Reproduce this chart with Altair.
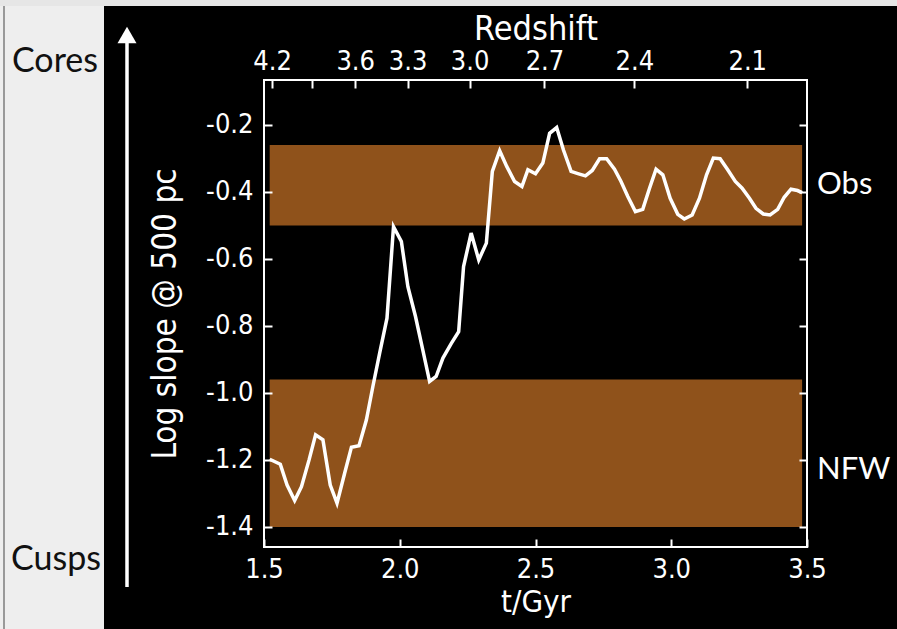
import altair as alt
import pandas as pd

# Simulation time (Gyr) and log slope of the dark matter density profile at 500 pc
t_gyr = [1.521, 1.560, 1.585, 1.613, 1.638, 1.666, 1.690, 1.717, 1.744, 1.769,
         1.797, 1.822, 1.850, 1.877, 1.901, 1.926, 1.953, 1.977, 2.006, 2.030,
         2.058, 2.085, 2.110, 2.134, 2.159, 2.190, 2.217, 2.235, 2.263, 2.291,
         2.319, 2.341, 2.368, 2.394, 2.423, 2.450, 2.472, 2.500, 2.527, 2.552,
         2.578, 2.603, 2.631, 2.659, 2.684, 2.709, 2.736, 2.762, 2.791, 2.815,
         2.840, 2.868, 2.895, 2.920, 2.944, 2.969, 2.996, 3.024, 3.048, 3.077,
         3.104, 3.130, 3.155, 3.180, 3.208, 3.236, 3.261, 3.288, 3.312, 3.339,
         3.364, 3.392, 3.416, 3.441, 3.465, 3.482]
log_slope = [-1.198, -1.213, -1.275, -1.321, -1.280, -1.200, -1.125, -1.140, -1.275, -1.329,
             -1.240, -1.162, -1.158, -1.081, -0.981, -0.881, -0.777, -0.504, -0.548, -0.683,
             -0.772, -0.872, -0.966, -0.951, -0.896, -0.852, -0.817, -0.623, -0.523, -0.603,
             -0.553, -0.339, -0.277, -0.324, -0.369, -0.384, -0.334, -0.346, -0.314, -0.225,
             -0.208, -0.275, -0.339, -0.346, -0.352, -0.336, -0.301, -0.301, -0.332, -0.369,
             -0.414, -0.459, -0.452, -0.389, -0.332, -0.349, -0.419, -0.467, -0.481, -0.469,
             -0.419, -0.349, -0.299, -0.301, -0.334, -0.369, -0.389, -0.419, -0.449, -0.466,
             -0.469, -0.452, -0.416, -0.392, -0.396, -0.402]

# Reference ranges: observed dwarf galaxies and NFW cusps
band_names = ["Obs", "NFW"]
band_low = [-0.50, -1.40]
band_high = [-0.26, -0.96]
band_label_y = [-0.38, -1.23]

# Redshift ticks on the top axis, placed at their cosmic time
z_tick_t = [1.530, 1.676, 1.836, 2.029, 2.257, 2.533, 2.864, 3.280]
z_tick_labels = ["4.2", "", "3.6", "3.3", "3.0", "2.7", "2.4", "2.1"]

t_ticks = [1.5, 2.0, 2.5, 3.0, 3.5]
slope_ticks = [-0.2, -0.4, -0.6, -0.8, -1.0, -1.2, -1.4]

W, H = 543, 467
PAD_L, PAD_T = 264, 80
X_DOM = [1.5, 3.5]
Y_DOM = [-1.46, -0.066]

AX_FONT = "DejaVu Sans Condensed, DejaVu Sans"
SIDE_FONT = "Lato"
BAND_COLOR = "#8f521b"

line_df = pd.DataFrame({"t": t_gyr, "slope": log_slope})
band_df = pd.DataFrame({
    "name": band_names, "lo": band_low, "hi": band_high, "label_y": band_label_y,
    "t0": [t_gyr[0]] * 2, "t1": [t_gyr[-1]] * 2,
})
z_df = pd.DataFrame({"t": z_tick_t})
ytick_df = pd.DataFrame({"v": slope_ticks})
one = pd.DataFrame({"k": [0]})

xs = alt.Scale(domain=X_DOM, nice=False, zero=False)
ys = alt.Scale(domain=Y_DOM, nice=False, zero=False)

axis_style = dict(
    offset=-8, tickSize=8, tickWidth=2, tickColor="white", domain=False, grid=False,
    labelColor="white", labelFont=AX_FONT, labelFontSize=27, labelFlush=False,
    labelOverlap=False, titleColor="white", titleFont=AX_FONT,
    titleFontWeight="normal", zindex=1,
)

minus_fix = "replace(format(datum.value, '.1f'), '\u2212', '-')"

# Light side panel with the cores/cusps arrow
panel = alt.Chart(one).mark_rect(color="#eeeeee").encode(
    x=alt.value(-PAD_L), x2=alt.value(104 - PAD_L),
    y=alt.value(-PAD_T), y2=alt.value(629 - PAD_T))
top_strip = alt.Chart(one).mark_rect(color="#e6e6e6").encode(
    x=alt.value(-PAD_L), x2=alt.value(897 - PAD_L),
    y=alt.value(-PAD_T), y2=alt.value(6 - PAD_T))
panel_edge = alt.Chart(one).mark_rule(color="#444444", strokeWidth=1).encode(
    x=alt.value(4 - PAD_L), y=alt.value(6 - PAD_T), y2=alt.value(629 - PAD_T))
arrow_shaft = alt.Chart(one).mark_rule(color="white", strokeWidth=3.5).encode(
    x=alt.value(127 - PAD_L), y=alt.value(40 - PAD_T), y2=alt.value(587 - PAD_T))
arrow_head = alt.Chart(one).mark_point(
    shape="triangle-up", filled=True, size=361, color="white", opacity=1
).encode(x=alt.value(127 - PAD_L), y=alt.value(35 - PAD_T))
cores = alt.Chart(one).mark_text(
    text="Cores", font=SIDE_FONT, fontSize=34, color="#111111", align="center",
    baseline="alphabetic").encode(x=alt.value(55 - PAD_L), y=alt.value(72 - PAD_T))
cusps = alt.Chart(one).mark_text(
    text="Cusps", font=SIDE_FONT, fontSize=34, color="#111111", align="center",
    baseline="alphabetic").encode(x=alt.value(56 - PAD_L), y=alt.value(570 - PAD_T))

bands = alt.Chart(band_df).mark_rect(color=BAND_COLOR).encode(
    x=alt.X("t0:Q", scale=xs, axis=alt.Axis(
        orient="bottom", values=t_ticks, format=".1f", title="t/Gyr",
        titleFontSize=31, labelPadding=9, titlePadding=5, **axis_style)),
    x2="t1:Q",
    y=alt.Y("lo:Q", scale=ys, axis=alt.Axis(
        orient="left", values=slope_ticks, labelExpr=minus_fix,
        title="Log slope @ 500 pc", titleFontSize=33,
        labelPadding=11, titlePadding=23, **axis_style)),
    y2="hi:Q",
)

curve = alt.Chart(line_df).mark_line(color="white", strokeWidth=3.5).encode(
    x=alt.X("t:Q", scale=xs, axis=None),
    y=alt.Y("slope:Q", scale=ys, axis=None),
)

z_expr = "{}[indexof({}, datum.value)]".format(
    "[" + ",".join("'%s'" % s for s in z_tick_labels) + "]",
    "[" + ",".join(repr(v) for v in z_tick_t) + "]")

top_axis = alt.Chart(z_df).mark_point(opacity=0).encode(
    x=alt.X("t:Q", scale=xs, axis=alt.Axis(
        orient="top", values=z_tick_t, labelExpr=z_expr, title="Redshift",
        titleFontSize=34, labelPadding=5, titlePadding=1, **axis_style)))

right_axis = alt.Chart(ytick_df).mark_point(opacity=0).encode(
    y=alt.Y("v:Q", scale=ys, axis=alt.Axis(
        orient="right", values=slope_ticks, labels=False, title=None, **axis_style)))

band_text = alt.Chart(band_df).mark_text(
    font=SIDE_FONT, fontSize=31, color="white", align="left", baseline="middle"
).encode(
    x=alt.value(W + 10),
    y=alt.Y("label_y:Q", scale=ys, axis=None),
    text="name:N",
)

chart = alt.layer(
    panel, top_strip, panel_edge, arrow_shaft, arrow_head, cores, cusps,
    bands, curve, top_axis, right_axis, band_text,
).resolve_scale(x="independent", y="independent").properties(
    width=W, height=H,
    autosize=alt.AutoSizeParams(type="none"),
    padding={"left": PAD_L, "top": PAD_T, "right": 897 - PAD_L - W, "bottom": 629 - PAD_T - H},
    background="black",
).configure_view(stroke="white", strokeWidth=2, fill=None)

chart.save("out.html", embed_options={"renderer": "svg", "actions": False})
